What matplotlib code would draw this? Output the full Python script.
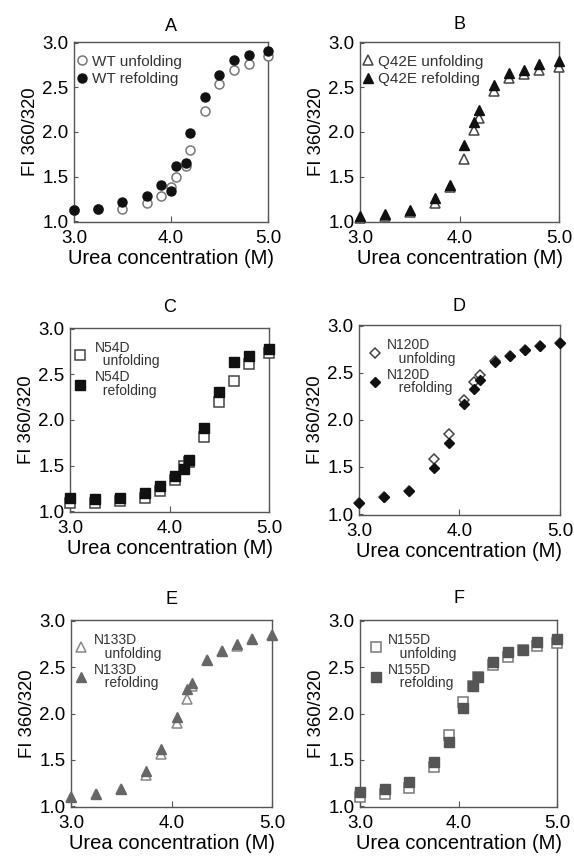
import matplotlib
matplotlib.use("Agg")
import matplotlib.pyplot as plt

plt.rcParams["font.family"] = ["Liberation Sans", "DejaVu Sans"]

# urea concentrations (M)
urea_a = [3.0, 3.25, 3.5, 3.75, 3.9, 4.0, 4.05, 4.15, 4.2, 4.35, 4.5, 4.65, 4.8, 5.0]
urea = [3.0, 3.25, 3.5, 3.75, 3.9, 4.05, 4.15, 4.2, 4.35, 4.5, 4.65, 4.8, 5.0]

# FI 360/320 ratios
wt_unf = [1.12, 1.13, 1.14, 1.20, 1.28, 1.38, 1.50, 1.62, 1.80, 2.23, 2.54, 2.69, 2.76, 2.85]
wt_ref = [1.12, 1.13, 1.21, 1.28, 1.40, 1.34, 1.62, 1.65, 1.99, 2.39, 2.64, 2.81, 2.86, 2.91]

q42e_unf = [1.04, 1.06, 1.10, 1.20, 1.38, 1.70, 2.02, 2.16, 2.46, 2.60, 2.65, 2.70, 2.73]
q42e_ref = [1.06, 1.08, 1.12, 1.26, 1.41, 1.85, 2.11, 2.25, 2.53, 2.66, 2.69, 2.76, 2.80]

n54d_unf = [1.09, 1.09, 1.11, 1.14, 1.22, 1.34, 1.50, 1.54, 1.81, 2.20, 2.43, 2.61, 2.73]
n54d_ref = [1.14, 1.13, 1.14, 1.20, 1.28, 1.38, 1.46, 1.56, 1.91, 2.31, 2.64, 2.70, 2.78]

n120d_unf = [1.12, 1.18, 1.25, 1.59, 1.85, 2.21, 2.40, 2.48, 2.63, 2.68, 2.74, 2.79, 2.82]
n120d_ref = [1.12, 1.18, 1.25, 1.49, 1.75, 2.17, 2.33, 2.42, 2.62, 2.68, 2.74, 2.79, 2.82]

n133d_unf = [1.10, 1.13, 1.18, 1.34, 1.56, 1.90, 2.16, 2.30, 2.58, 2.68, 2.73, 2.80, 2.85]
n133d_ref = [1.10, 1.13, 1.18, 1.38, 1.62, 1.96, 2.27, 2.33, 2.58, 2.68, 2.75, 2.80, 2.85]

n155d_unf = [1.10, 1.13, 1.20, 1.42, 1.77, 2.12, 2.30, 2.39, 2.52, 2.61, 2.69, 2.73, 2.76]
n155d_ref = [1.15, 1.18, 1.26, 1.48, 1.69, 2.06, 2.30, 2.39, 2.56, 2.66, 2.69, 2.77, 2.80]

series = [
    ("A", urea_a, wt_unf, wt_ref, "WT unfolding", "WT refolding"),
    ("B", urea, q42e_unf, q42e_ref, "Q42E unfolding", "Q42E refolding"),
    ("C", urea, n54d_unf, n54d_ref, "N54D\n  unfolding", "N54D\n  refolding"),
    ("D", urea, n120d_unf, n120d_ref, "N120D\n   unfolding", "N120D\n   refolding"),
    ("E", urea, n133d_unf, n133d_ref, "N133D\n   unfolding", "N133D\n   refolding"),
    ("F", urea, n155d_unf, n155d_ref, "N155D\n   unfolding", "N155D\n   refolding"),
]

# marker, size, open edge colour, filled colour, axes rect, legend font, legend x, text pad, title pad
styles = [
    ("o", 6.5, "#777777", "#111111", [0.1289, 0.7407, 0.338, 0.2103], 11, 0.0, 0.2, 8),
    ("^", 7.5, "#444444", "#111111", [0.6272, 0.7407, 0.3467, 0.2103], 11, 0.0, 0.2, 9.5),
    ("s", 7, "#444444", "#111111", [0.1220, 0.4019, 0.3467, 0.2150], 10, 0.015, 0.6, 11.5),
    ("D", 5, "#444444", "#111111", [0.6254, 0.3984, 0.3500, 0.2220], 10, 0.045, 0.35, 10),
    ("^", 7.5, "#888888", "#666666", [0.1237, 0.0572, 0.3502, 0.2185], 10, 0.015, 0.4, 11.5),
    ("s", 7, "#777777", "#555555", [0.6272, 0.0572, 0.3432, 0.2185], 10, 0.045, 0.35, 12),
]

fig = plt.figure(figsize=(5.74, 8.56), dpi=100)

for (title, x, unf, ref, lab_u, lab_r), style in zip(series, styles):
    marker, ms, c_open, c_fill, rect, lfs, lx, tpad, ttl_pad = style
    ax = fig.add_axes(rect)
    ax.plot(x, unf, linestyle="none", marker=marker, markersize=ms, markerfacecolor="white",
            markeredgecolor=c_open, markeredgewidth=1.1, clip_on=False, label=lab_u, zorder=3)
    ax.plot(x, ref, linestyle="none", marker=marker, markersize=ms, markerfacecolor=c_fill,
            markeredgecolor=c_fill, clip_on=False, label=lab_r, zorder=4)
    ax.set_xlim(3.0, 5.0)
    ax.set_ylim(0.99, 3.01)
    ax.set_xticks([3.0, 4.0, 5.0])
    ax.set_xticklabels(["3.0", "4.0", "5.0"])
    ax.set_yticks([1.0, 1.5, 2.0, 2.5, 3.0])
    ax.set_yticklabels(["1.0", "1.5", "2.0", "2.5", "3.0"])
    ax.tick_params(direction="in", length=4, width=0.8, color="#555555", labelsize=13.5)
    ax.tick_params(axis="x", pad=5.5)
    ax.tick_params(axis="y", length=3, pad=4)
    for sp in ax.spines.values():
        sp.set_color("#555555")
        sp.set_linewidth(1.0)
    ax.set_title(title, fontsize=13, pad=ttl_pad)
    ax.set_xlabel("Urea concentration (M)", fontsize=14.5, labelpad=2)
    ax.set_ylabel("FI 360/320", fontsize=13.3, labelpad=2)
    leg = ax.legend(loc="upper left", bbox_to_anchor=(lx, 0.93), frameon=False, fontsize=lfs,
                    handlelength=1.0, handletextpad=tpad, labelspacing=0.25 if lfs == 11 else 0.15,
                    borderaxespad=0.0, borderpad=0.0, labelcolor="#333333")
    for t in leg.get_texts():
        t.set_linespacing(0.95)

fig.savefig("out.png", dpi=100)
